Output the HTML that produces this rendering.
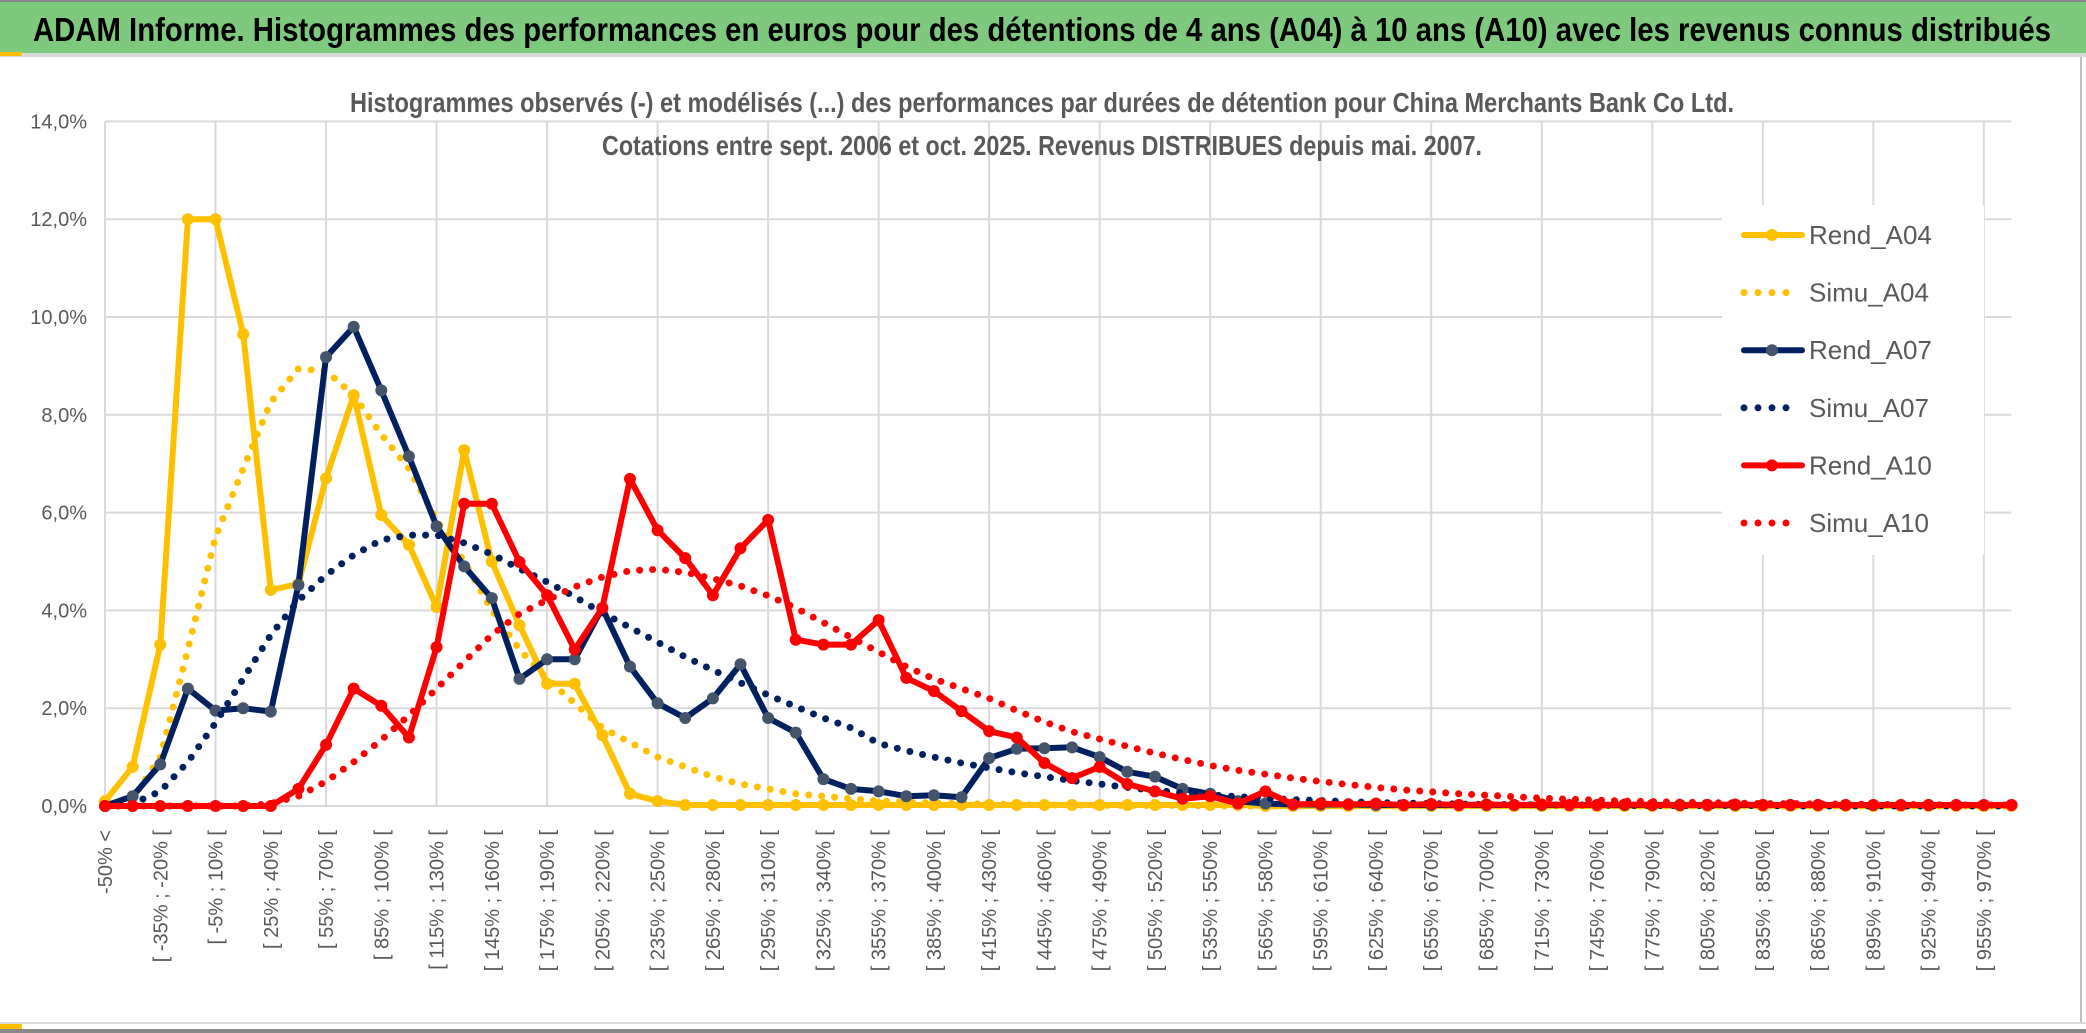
<!DOCTYPE html>
<html><head><meta charset="utf-8"><style>
html,body{margin:0;padding:0;background:#fff;}
svg{display:block;font-family:"Liberation Sans",sans-serif;}
</style></head><body>
<svg id="chart" width="2086" height="1033" viewBox="0 0 2086 1033" xmlns="http://www.w3.org/2000/svg">
<rect x="0" y="0" width="2086" height="1033" fill="#fff"/>
<rect x="0" y="0" width="2086" height="2" fill="#888"/>
<rect x="0" y="2" width="2086" height="51" fill="#7fc97f"/>
<rect x="0" y="53" width="2086" height="4" fill="#d9d9d9"/>
<rect x="0" y="52" width="22" height="4" fill="#ffc000"/>
<text x="33" y="41" font-size="33" font-weight="bold" fill="#000" textLength="2018" lengthAdjust="spacingAndGlyphs">ADAM Informe. Histogrammes des performances en euros pour des détentions de 4 ans (A04) à 10 ans (A10) avec les revenus connus distribués</text>
<rect x="2080" y="57" width="2" height="967" fill="#bfbfbf"/>
<rect x="0" y="1022" width="2086" height="2" fill="#d9d9d9"/>
<rect x="0" y="1024" width="22" height="5" fill="#ffc000"/>
<rect x="0" y="1029" width="2086" height="4" fill="#888"/>
<g id="grid"></g>
<g id="axes"></g>
<g id="series"></g>
<text x="1042" y="112" font-size="28" font-weight="bold" fill="#595959" text-anchor="middle" textLength="1384" lengthAdjust="spacingAndGlyphs">Histogrammes observés (-) et modélisés (...) des performances par durées de détention pour China Merchants Bank Co Ltd.</text>
<text x="1042" y="155" font-size="28" font-weight="bold" fill="#595959" text-anchor="middle" textLength="880" lengthAdjust="spacingAndGlyphs">Cotations entre sept. 2006 et oct. 2025. Revenus DISTRIBUES depuis mai. 2007.</text>
<g id="legend"></g>
</svg>
<script>
const NS="http://www.w3.org/2000/svg";
const rendA04=[0.1,0.8,3.3,12.0,12.0,9.65,4.42,4.54,6.7,8.4,5.95,5.34,4.07,7.28,5.0,3.7,2.5,2.5,1.45,0.25,0.1,0.02,0.02,0.02,0.02,0.02,0.02,0.02,0.02,0.02,0.02,0.02,0.02,0.02,0.02,0.02,0.02,0.02,0.02,0.02,0.02,0.02,0,0,0,0,0,0,0,0,0,0,0,0,0,0,0,0,0,0,0,0,0,0,0,0,0,0,0,0];
const simuA04=[0.02,0.15,1.0,3.2,5.5,6.9,8.26,8.94,8.9,8.4,7.6,6.9,5.85,5.0,4.0,3.2,2.6,2.1,1.6,1.3,1.0,0.8,0.6,0.45,0.35,0.25,0.2,0.15,0.1,0.08,0.06,0.05,0.04,0.03,0.02,0.02,0.01,0.01,0.01,0.01,0,0,0,0,0,0,0,0,0,0,0,0,0,0,0,0,0,0,0,0,0,0,0,0,0,0,0,0,0,0];
const rendA07=[0,0.2,0.85,2.4,1.95,2.0,1.93,4.52,9.18,9.8,8.5,7.15,5.72,4.9,4.25,2.6,3.0,3.0,4.05,2.85,2.1,1.8,2.2,2.9,1.8,1.5,0.55,0.35,0.3,0.2,0.22,0.18,0.98,1.17,1.18,1.2,1.0,0.7,0.6,0.35,0.25,0.1,0.05,0.03,0.03,0.03,0.02,0.02,0.02,0.02,0.02,0.02,0.02,0.02,0.02,0.02,0.02,0.02,0.02,0.02,0.02,0.02,0.02,0.02,0.02,0.02,0.02,0.02,0.02,0.02];
const simuA07=[0,0.05,0.3,0.9,1.7,2.6,3.5,4.2,4.72,5.13,5.44,5.54,5.54,5.38,5.15,4.85,4.58,4.28,3.95,3.65,3.35,3.05,2.78,2.52,2.27,2.03,1.8,1.6,1.28,1.13,1.0,0.88,0.78,0.68,0.6,0.52,0.45,0.38,0.32,0.27,0.23,0.19,0.16,0.13,0.11,0.09,0.07,0.06,0.05,0.04,0.03,0.03,0.02,0.02,0.02,0.01,0.01,0.01,0.01,0.01,0.01,0,0,0,0,0,0,0,0,0];
const rendA10=[0,0,0,0,0,0,0,0.35,1.25,2.4,2.05,1.4,3.25,6.18,6.18,4.99,4.31,3.2,4.05,6.69,5.64,5.07,4.31,5.27,5.85,3.4,3.3,3.3,3.8,2.62,2.35,1.94,1.53,1.4,0.88,0.57,0.8,0.45,0.3,0.15,0.2,0.05,0.3,0.03,0.05,0.03,0.05,0.02,0.04,0.02,0.03,0.02,0.03,0.02,0.02,0.03,0.02,0.02,0.02,0.03,0.02,0.02,0.02,0.02,0.02,0.02,0.02,0.02,0.02,0.02];
const simuA10=[0,0,0,0,0,0,0.05,0.2,0.5,0.9,1.35,1.85,2.4,2.95,3.5,3.93,4.21,4.48,4.68,4.81,4.84,4.78,4.65,4.5,4.3,4.05,3.75,3.45,3.15,2.85,2.6,2.4,2.2,1.95,1.72,1.52,1.37,1.22,1.08,0.95,0.83,0.73,0.65,0.57,0.5,0.44,0.38,0.33,0.29,0.25,0.22,0.19,0.16,0.14,0.12,0.1,0.09,0.08,0.07,0.06,0.05,0.05,0.04,0.04,0.03,0.03,0.03,0.02,0.02,0.02];
const yTicks=[0,2,4,6,8,10,12,14];
const yTickLabels=["0,0%","2,0%","4,0%","6,0%","8,0%","10,0%","12,0%","14,0%"];
const categories=["-50% <"];
for(let i=1;i<70;i++){const a=-50+15*(i-1);categories.push("[ "+a+"% ; "+(a+15)+"% [");}

const X0=105, DX=27.63, Y0=806, PY=48.9;
function xs(i){return X0+DX*i;}
function ys(v){return Y0-PY*v;}
const grid=document.getElementById('grid');
const axes=document.getElementById('axes');
const series=document.getElementById('series');
function mk(tag,attrs,parent){const e=document.createElementNS(NS,tag);for(const k in attrs)e.setAttribute(k,attrs[k]);parent.appendChild(e);return e;}

for(let k=0;k*4<categories.length;k++){
  const l=mk('line',{x1:xs(4*k),x2:xs(4*k),y1:ys(14),y2:Y0,stroke:'#d9d9d9','stroke-width':2},grid);
  
  
}
yTicks.forEach((t,j)=>{
  const l=mk('line',{x1:X0,x2:xs(69),y1:ys(t),y2:ys(t),stroke:'#d9d9d9','stroke-width':2},grid);
  
  
  const tx=mk('text',{x:87,y:ys(t)+7,'font-size':20,fill:'#595959','text-anchor':'end'},axes);
  tx.textContent=yTickLabels[j];
  
  
});
categories.forEach((c,i)=>{
  if(i%2)return;
  const x=xs(i)+7, y=830;
  const tx=mk('text',{x:x,y:y,'font-size':20,fill:'#595959','text-anchor':'end',transform:`rotate(-90 ${x} ${y})`},axes);
  tx.textContent=c;
  
  
});

function pts(arr){return arr.map((v,i)=>xs(i).toFixed(1)+','+ys(v).toFixed(1)).join(' ');}
function rend(arr,color,mfill,name){
  const g=mk('g',{},series);
  
  
  mk('polyline',{points:pts(arr),fill:'none',stroke:color,'stroke-width':6,'stroke-linejoin':'round','stroke-linecap':'round'},g);
  arr.forEach((v,i)=>{
    const c=mk('circle',{cx:xs(i),cy:ys(v),r:6,fill:mfill},g);
    
    
  });
}
function simu(arr,color,name){
  const p=mk('polyline',{points:pts(arr),fill:'none',stroke:color,'stroke-width':7,'stroke-dasharray':'0 13','stroke-linecap':'round'},series);
  
  
}
rend(rendA04,'#ffc000','#ffc000','rend-a04-line');
simu(simuA04,'#ffc000','simu-a04-line');
rend(rendA07,'#002060','#44546a','rend-a07-line');
simu(simuA07,'#002060','simu-a07-line');
rend(rendA10,'#ff0000','#ff0000','rend-a10-line');
simu(simuA10,'#ff0000','simu-a10-line');

const leg=document.getElementById('legend');
mk('rect',{x:1722,y:205,width:262,height:350,fill:'#fff'},leg);
const legItems=[["Rend_A04",'#ffc000','#ffc000',false],["Simu_A04",'#ffc000','',true],["Rend_A07",'#002060','#44546a',false],["Simu_A07",'#002060','',true],["Rend_A10",'#ff0000','#ff0000',false],["Simu_A10",'#ff0000','',true]];
legItems.forEach((it,j)=>{
  const y=235+57.6*j;
  const g=mk('g',{},leg);
  
  
  if(it[3]){
    mk('line',{x1:1744,x2:1800,y1:y,y2:y,stroke:it[1],'stroke-width':7,'stroke-dasharray':'0 14','stroke-linecap':'round'},g);
  }else{
    mk('line',{x1:1744,x2:1802,y1:y,y2:y,stroke:it[1],'stroke-width':6,'stroke-linecap':'round'},g);
    mk('circle',{cx:1772,cy:y,r:6,fill:it[2]},g);
  }
  const t=mk('text',{x:1809,y:y+9,'font-size':26,fill:'#595959'},g);
  t.textContent=it[0];
});
</script>
</body></html>
